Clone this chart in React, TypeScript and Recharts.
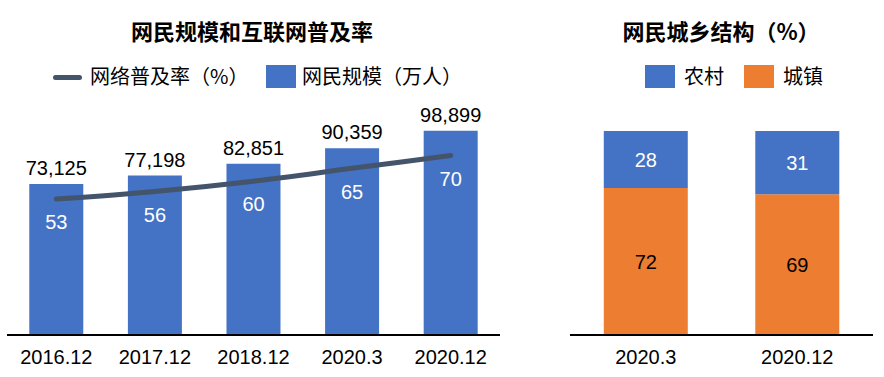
import React from "react"
import {
  ComposedChart,
  BarChart,
  Bar,
  Line,
  XAxis,
  YAxis,
  LabelList,
} from "recharts"

const periods = ["2016.12", "2017.12", "2018.12", "2020.3", "2020.12"]
const netizens = [73125, 77198, 82851, 90359, 98899]
const penetration = [53, 56, 60, 65, 70]

const structPeriods = ["2020.3", "2020.12"]
const rural = [28, 31]
const urban = [72, 69]

const BLUE = "#4472C4"
const ORANGE = "#ED7D31"
const SLATE = "#44546A"
const FONT = "'Liberation Sans', 'Noto Sans CJK SC', sans-serif"
const CJK = "'Noto Sans CJK SC', sans-serif"

const sizeData = periods.map((p, i) => ({ period: p, size: netizens[i], rate: penetration[i] }))
const structData = structPeriods.map((p, i) => ({ period: p, rural: rural[i], urban: urban[i] }))

const tickStyle = { fontSize: 20, fill: "#000", fontFamily: FONT }

// legend entry, placed by hand like the office chart it copies
function LegendItem({ x, textX, color, label, line }: { x: number; textX: number; color: string; label: string; line?: boolean }) {
  return (
    <>
      {line ? (
        <span style={{ position: "absolute", left: x, top: 75, width: 29, height: 5, borderRadius: 3, background: color }} />
      ) : (
        <span style={{ position: "absolute", left: x, top: 65, width: 30, height: 23, background: color }} />
      )}
      <span style={{ position: "absolute", left: textX, top: 62, lineHeight: "28px", fontSize: 20, fontFamily: CJK, whiteSpace: "nowrap" }}>
        {label}
      </span>
    </>
  )
}

export default function App() {
  return (
    <div style={{ position: "absolute", left: 0, top: 0, width: 884, height: 377, background: "#fff", fontFamily: FONT }}>
      <div style={{ position: "absolute", left: 0, width: 504, top: 16, textAlign: "center", fontFamily: CJK, fontWeight: 700, fontSize: 22, lineHeight: "28px" }}>
        网民规模和互联网普及率
      </div>
      <div style={{ position: "absolute", left: 560, width: 322, top: 16, textAlign: "center", fontFamily: CJK, fontWeight: 700, fontSize: 22, lineHeight: "28px" }}>
        网民城乡结构（%）
      </div>

      <LegendItem x={53} textX={90} color={SLATE} label="网络普及率（%）" line />
      <LegendItem x={266} textX={302} color={BLUE} label="网民规模（万人）" />
      <LegendItem x={645} textX={684} color={BLUE} label="农村" />
      <LegendItem x={744} textX={783} color={ORANGE} label="城镇" />

      <div style={{ position: "absolute", left: 0, top: 0 }}>
        <ComposedChart
          width={560}
          height={377}
          data={sizeData}
          margin={{ top: 85, right: 60, bottom: 12, left: 7 }}
          barCategoryGap="22.6%"
        >
          <XAxis
            dataKey="period"
            tickLine={false}
            tickMargin={9}
            axisLine={{ stroke: "#000", strokeWidth: 2 }}
            tick={tickStyle}
            height={30}
          />
          <YAxis yAxisId="size" hide domain={[0, 121000]} />
          <YAxis yAxisId="rate" hide orientation="right" domain={[0, 97.5]} />
          <Bar yAxisId="size" dataKey="size" name="网民规模（万人）" fill={BLUE} isAnimationActive={false}>
            <LabelList
              dataKey="size"
              position="top"
              offset={9}
              formatter={(v: any) => Number(v).toLocaleString("en-US")}
              style={{ fontSize: 20, fill: "#000", fontFamily: FONT }}
            />
          </Bar>
          <Line
            yAxisId="rate"
            type="monotone"
            dataKey="rate"
            name="网络普及率（%）"
            stroke={SLATE}
            strokeWidth={5}
            strokeLinecap="round"
            dot={false}
            activeDot={false}
            isAnimationActive={false}
          >
            <LabelList
              dataKey="rate"
              position="bottom"
              offset={16}
              style={{ fontSize: 20, fill: "#fff", fontFamily: FONT }}
            />
          </Line>
        </ComposedChart>
      </div>

      <div style={{ position: "absolute", left: 560, top: 0 }}>
        <BarChart
          width={324}
          height={377}
          data={structData}
          margin={{ top: 131, right: 11, bottom: 12, left: 10 }}
          barCategoryGap="22.3%"
        >
          <XAxis
            dataKey="period"
            tickLine={false}
            tickMargin={9}
            axisLine={{ stroke: "#000", strokeWidth: 2 }}
            tick={tickStyle}
            height={30}
          />
          <YAxis hide domain={[0, 100]} />
          <Bar dataKey="urban" name="城镇" stackId="s" fill={ORANGE} isAnimationActive={false}>
            <LabelList dataKey="urban" position="center" style={{ fontSize: 20, fill: "#000", fontFamily: FONT }} />
          </Bar>
          <Bar dataKey="rural" name="农村" stackId="s" fill={BLUE} isAnimationActive={false}>
            <LabelList dataKey="rural" position="center" style={{ fontSize: 20, fill: "#fff", fontFamily: FONT }} />
          </Bar>
        </BarChart>
      </div>
    </div>
  )
}
